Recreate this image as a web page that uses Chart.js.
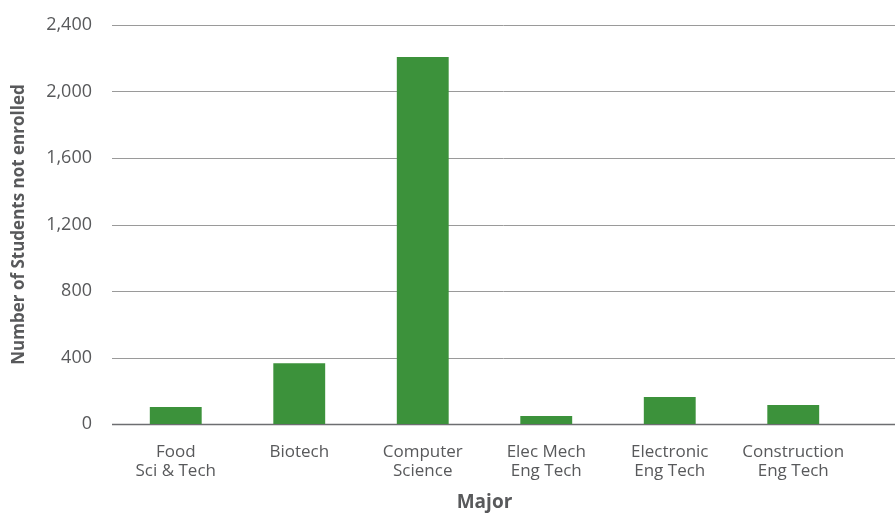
<!DOCTYPE html>
<html>
<head>
<meta charset="utf-8">
<script src="https://cdn.jsdelivr.net/npm/chart.js@4"></script>
<style>
  html, body { margin: 0; padding: 0; background: #fff; }
  #wrap { width: 895px; height: 513px; position: relative; }
</style>
</head>
<body>
<div id="wrap"><canvas id="c" width="895" height="513"></canvas></div>
<script>
const categories = [
  ["Food", "Sci & Tech"],
  ["Biotech"],
  ["Computer", "Science"],
  ["Elec Mech", "Eng Tech"],
  ["Electronic", "Eng Tech"],
  ["Construction", "Eng Tech"]
];
const notEnrolled = [102, 366, 2208, 48, 162, 114];
const yTicks = [0, 400, 800, 1200, 1600, 2000, 2400];
const xTitle = "Major";
const yTitle = "Number of Students not enrolled";

const FONT = "'Open Sans', Lato, sans-serif";
const TEXT = "#58595b";

const fullGrid = {
  id: 'fullGrid',
  beforeDatasetsDraw(chart) {
    const ctx = chart.ctx;
    const y = chart.scales.y;
    const left = chart.chartArea.left - 2;
    const right = chart.width;
    ctx.save();
    y.ticks.forEach(t => {
      const py = Math.round(y.getPixelForValue(t.value)) + 0.5;
      ctx.beginPath();
      ctx.strokeStyle = t.value === 0 ? '#6d6e71' : '#9a9a9a';
      ctx.lineWidth = t.value === 0 ? 1.6 : 1;
      ctx.moveTo(left, py);
      ctx.lineTo(right, py);
      ctx.stroke();
    });
    ctx.restore();
  }
};

new Chart(document.getElementById('c'), {
  type: 'bar',
  data: {
    labels: categories,
    datasets: [{
      data: notEnrolled,
      backgroundColor: '#3c923b',
      borderWidth: 0,
      barPercentage: 0.42,
      categoryPercentage: 1.0
    }]
  },
  options: {
    responsive: false,
    animation: false,
    devicePixelRatio: 1,
    layout: { padding: { left: 0, right: 40, top: 25, bottom: 0 } },
    plugins: { legend: { display: false }, tooltip: { enabled: false } },
    scales: {
      x: {
        grid: { display: false, drawTicks: false },
        border: { display: false },
        ticks: {
          color: TEXT,
          font: { family: FONT, size: 17, lineHeight: 1.12 },
          padding: 19,
          maxRotation: 0,
          autoSkip: false
        },
        title: {
          display: true,
          text: xTitle,
          color: TEXT,
          font: { family: FONT, size: 19, weight: 'bold', lineHeight: 1.1 },
          padding: { top: 0, bottom: 0 }
        },
        afterFit(scale) { scale.height = 89; }
      },
      y: {
        min: 0,
        max: 2400,
        afterBuildTicks(scale) { scale.ticks = yTicks.map(v => ({ value: v })); },
        grid: { display: false, drawTicks: false },
        border: { display: false },
        ticks: {
          color: TEXT,
          font: { family: FONT, size: 18 },
          padding: 22,
          callback: v => v.toLocaleString('en-US')
        },
        title: {
          display: true,
          text: yTitle,
          color: TEXT,
          font: { family: FONT, size: 17, weight: 'bold', lineHeight: 1.1 },
          padding: { top: 10, bottom: 0 }
        },
        afterFit(scale) {
          scale.width = 114;
          scale.paddingTop = 0;
          scale.paddingBottom = 0;
        }
      }
    }
  },
  plugins: [fullGrid]
});
</script>
</body>
</html>
